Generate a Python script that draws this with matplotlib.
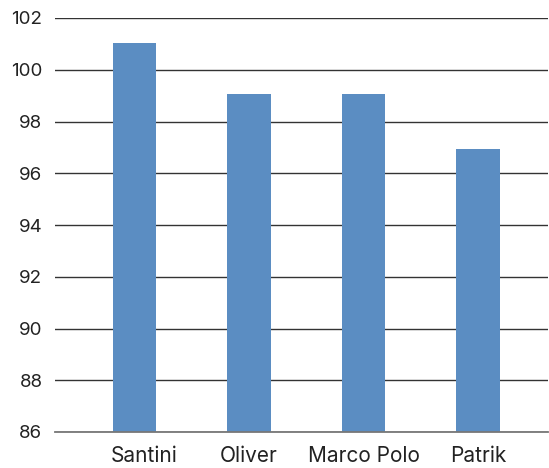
import matplotlib.pyplot as plt
from matplotlib.transforms import ScaledTranslation

names = ['Santini', 'Oliver', 'Marco Polo', 'Patrik']
scores = [101.05, 99.05, 99.05, 96.95]
yticks = [86, 88, 90, 92, 94, 96, 98, 100, 102]

plt.rcParams['font.family'] = ['Inter', 'DejaVu Sans']

fig = plt.figure(figsize=(5.49, 4.68), dpi=100)
ax = fig.add_axes([55 / 549, 36 / 468, 493 / 549, 414 / 468])

ax.bar(range(len(names)), scores, width=0.38, color='#5b8dc2', zorder=3)

ax.set_ylim(86, 102)
ax.set_xlim(-0.693, 3.61)
ax.set_yticks(yticks)
ax.set_xticks(range(len(names)))
ax.set_xticklabels(names)
ax.grid(axis='y', color='#333333', linewidth=1.0, zorder=0)
# bottom baseline is lighter grey
ax.axhline(86, color='#777777', linewidth=1.3, clip_on=False, zorder=4)

for s in ax.spines.values():
    s.set_visible(False)
ax.tick_params(axis='both', length=0, colors='#222222')
ax.tick_params(axis='y', pad=9, labelsize=13.5)
ax.tick_params(axis='x', pad=10, labelsize=15)

# first label sits a bit right of its bar in the original
lbl = ax.get_xticklabels()[0]
lbl.set_transform(lbl.get_transform() + ScaledTranslation(10 / 100, 0, fig.dpi_scale_trans))

fig.savefig('out.png', dpi=100)
